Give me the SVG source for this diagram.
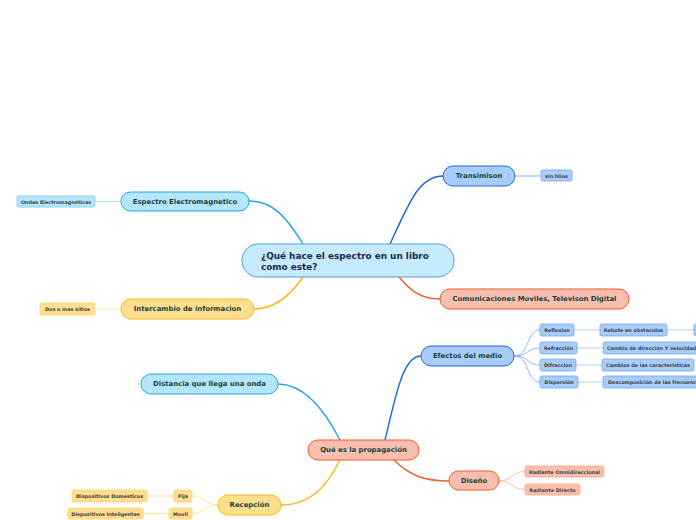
<svg xmlns="http://www.w3.org/2000/svg" width="696" height="520" viewBox="0 0 696 520">
<style>
text{font-family:"DejaVu Sans",Verdana,sans-serif;fill:#173f37;text-anchor:middle;dominant-baseline:central}
.t1{font-size:6.9px;font-weight:bold}
.t2{font-size:4.9px;font-weight:bold;fill:#3a3f44}
.main{font-size:8.9px;font-weight:bold;fill:#172a4e;text-anchor:start}
.c{fill:none;stroke-width:1.4}
.s{fill:none;stroke-width:0.9}
.cyan{fill:#b5e6fc;stroke:#1ea6e5;stroke-width:1}
.cyanl{fill:#b5e6fc;stroke:#7fcbf0;stroke-width:0.8}
.blue{fill:#a9cdfb;stroke:#1f6ae0;stroke-width:1}
.bluel{fill:#a9cdfb;stroke:#6fa4ef;stroke-width:0.8}
.red{fill:#f9bfae;stroke:#f15a29;stroke-width:1}
.redl{fill:#f9bfae;stroke:#f8a58c;stroke-width:0.8}
.gold{fill:#ffde8e;stroke:#fdb619;stroke-width:1}
.goldl{fill:#ffde8e;stroke:#ffd06a;stroke-width:0.8}
</style>
<rect width="696" height="520" fill="#ffffff"/>
<g id="connectors">
<path class="c" stroke="#1ea6e5" d="M303,244 C285,215 272,201 249,201"/>
<path class="c" stroke="#1565d8" d="M390,244 C410,200 420,176 443,176"/>
<path class="c" stroke="#f15a29" d="M399,277 C410,290 420,299 440,299"/>
<path class="c" stroke="#fdb515" d="M303,277 C290,296 275,309 254,309"/>
<path class="c" stroke="#1ea6e5" d="M340,440 C322,405 302,384 278,384"/>
<path class="c" stroke="#1565d8" d="M385,440 C395,400 402,356 421,356"/>
<path class="c" stroke="#f15a29" d="M394,460 C410,476 425,481 449,481"/>
<path class="c" stroke="#fdb515" d="M340,460 C325,490 308,505 281,505"/>
<path class="s" stroke="#a8d9f3" d="M95,201.5 L121,201.5"/>
<path class="s" stroke="#7eaef0" d="M515,176 L541,176"/>
<path class="s" stroke="#ffdf95" d="M95,309 L121,309"/>
<path class="s" stroke="#7eaef0" d="M514,356 C530,356 526,330 540,330"/>
<path class="s" stroke="#7eaef0" d="M514,356 C530,356 526,348 540,348"/>
<path class="s" stroke="#7eaef0" d="M514,356 C530,356 526,365 540,365"/>
<path class="s" stroke="#7eaef0" d="M514,356 C530,356 526,382 540,382"/>
<path class="s" stroke="#a9c8f5" d="M574,330 L600,330 M667,330 L694,330 M577,348 L603,348 M576,365 L602,365 M578,382 L603,382"/>
<path class="s" stroke="#fbb8a2" d="M499,481 C512,481 512,471.5 525,471.5 M499,481 C512,481 512,489.5 525,489.5"/>
<path class="s" stroke="#ffdf95" d="M218,505 C205,505 205,496 192,496 M218,505 C205,505 205,513.5 192,513.5 M174,496 L147,496 M169,513.5 L143,513.5"/>
</g>
<g id="main"><rect x="242" y="244" width="212" height="33" rx="16.5" fill="#c6ebfd" stroke="#4aa1df" stroke-width="1"/><text class="main" x="261" y="256">¿Qué hace el espectro en un libro</text><text class="main" x="261" y="267">como este?</text></g>
<g id="espectro"><rect class="cyan" x="121" y="192" width="128" height="19" rx="9.5"/><text class="t1" x="185" y="201.5">Espectro Electromagnetico</text></g>
<g id="ondas"><rect class="cyanl" x="17" y="196" width="78" height="11" rx="2"/><text class="t2" x="56" y="201.5">Ondas Electromagnéticas</text></g>
<g id="transimison"><rect class="blue" x="443" y="166" width="72" height="20" rx="10"/><text class="t1" x="479" y="176">Transimison</text></g>
<g id="sinhilos"><rect class="bluel" x="541" y="170" width="31" height="11" rx="2"/><text class="t2" x="556.5" y="175.5">sin hilos</text></g>
<g id="comunicaciones"><rect class="red" x="440" y="289" width="189" height="20" rx="10"/><text class="t1" x="534.5" y="299">Comunicaciones Moviles, Televison Digital</text></g>
<g id="intercambio"><rect class="gold" x="121" y="299" width="133" height="20" rx="10"/><text class="t1" x="187.5" y="309">Intercambio de informacion</text></g>
<g id="dosomas"><rect class="goldl" x="40" y="303" width="55" height="12" rx="2"/><text class="t2" x="67.5" y="309">Dos o mas sitios</text></g>
<g id="distancia"><rect class="cyan" x="141" y="374" width="137" height="20" rx="10"/><text class="t1" x="209.5" y="384">Distancia que llega una onda</text></g>
<g id="propagacion"><rect class="red" x="308" y="440" width="111" height="20" rx="10"/><text class="t1" x="363.5" y="450">Qué es la propagación</text></g>
<g id="efectos"><rect class="blue" x="421" y="346" width="93" height="20" rx="10"/><text class="t1" x="467.5" y="356">Efectos del medio</text></g>
<g id="reflexion"><rect class="bluel" x="540" y="324" width="34" height="12" rx="2"/><text class="t2" x="557" y="330">Reflexion</text></g>
<g id="refraccion"><rect class="bluel" x="540" y="342" width="37" height="12" rx="2"/><text class="t2" x="558.5" y="348">Refracción</text></g>
<g id="difraccion"><rect class="bluel" x="540" y="359" width="36" height="12" rx="2"/><text class="t2" x="558" y="365">Difraccion</text></g>
<g id="dispersion"><rect class="bluel" x="540" y="376" width="38" height="12" rx="2"/><text class="t2" x="559" y="382">Dispersión</text></g>
<g id="rebote"><rect class="bluel" x="600" y="324" width="67" height="12" rx="2"/><text class="t2" x="633.5" y="330">Rebote en obstaculos</text></g>
<g id="rebote-hijo"><rect class="bluel" x="694" y="324" width="30" height="12" rx="2"/></g>
<g id="cambio"><rect class="bluel" x="603" y="342" width="100" height="12" rx="2"/><text class="t2" x="607" y="348" style="text-anchor:start">Cambio de dirección Y velocidad</text></g>
<g id="cambios"><rect class="bluel" x="602" y="359" width="92" height="12" rx="2"/><text class="t2" x="648" y="365">Cambios de las caracteristicas</text></g>
<g id="descomposicion"><rect class="bluel" x="603" y="376" width="100" height="12" rx="2"/><text class="t2" x="608" y="382" style="text-anchor:start">Descomposición de las frecuencias</text></g>
<g id="diseno"><rect class="red" x="449" y="471" width="50" height="19" rx="9.5"/><text class="t1" x="474" y="480.5">Diseño</text></g>
<g id="omni"><rect class="redl" x="525" y="466" width="79" height="11" rx="2"/><text class="t2" x="564.5" y="471.5">Radiante Omnidireccional</text></g>
<g id="directo"><rect class="redl" x="525" y="484" width="55" height="11" rx="2"/><text class="t2" x="552.5" y="489.5">Radiante Directo</text></g>
<g id="recepcion"><rect class="gold" x="218" y="495" width="63" height="20" rx="10"/><text class="t1" x="249.5" y="505">Recepción</text></g>
<g id="fija"><rect class="goldl" x="174" y="490" width="18" height="12" rx="2"/><text class="t2" x="183" y="496">Fija</text></g>
<g id="movil"><rect class="goldl" x="169" y="508" width="23" height="11" rx="2"/><text class="t2" x="180.5" y="513.5">Movil</text></g>
<g id="domesticos"><rect class="goldl" x="72" y="490" width="75" height="12" rx="2"/><text class="t2" x="109.5" y="496">Dispositivos Domesticos</text></g>
<g id="inteligentes"><rect class="goldl" x="68" y="508" width="75" height="11" rx="2"/><text class="t2" x="105.5" y="513.5">Dispositivos inteligentes</text></g>
</svg>
